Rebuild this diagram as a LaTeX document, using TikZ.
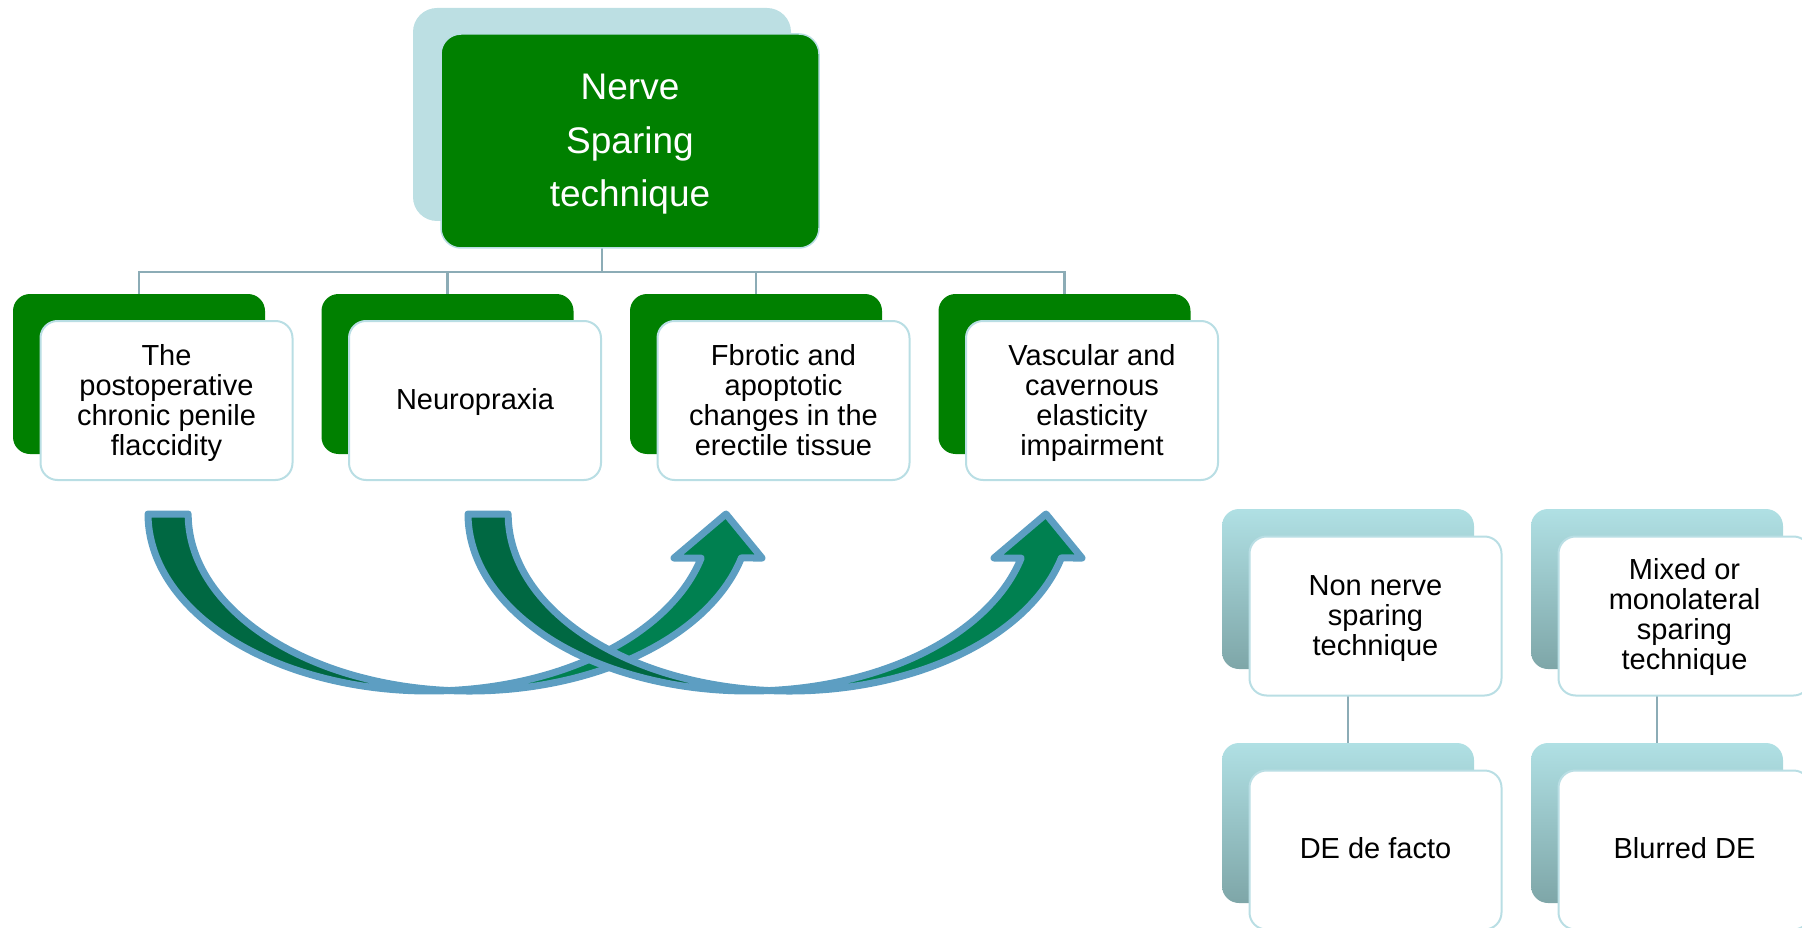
\documentclass[tikz,border=0pt]{standalone}
\usepackage{fontspec}
\setmainfont{Liberation Sans}
\newcommand{\tpad}[1]{\rule{0pt}{#1pt}}
\definecolor{pgreen}{RGB}{0,128,0}
\definecolor{lblue}{RGB}{188,223,227}
\definecolor{edgeteal}{RGB}{185,222,228}
\definecolor{connc}{RGB}{140,172,182}
\definecolor{tealtop}{RGB}{176,224,228}
\definecolor{tealbot}{RGB}{126,166,168}
\definecolor{arrfront}{RGB}{0,128,80}
\definecolor{arrback}{RGB}{0,104,66}
\definecolor{arrline}{RGB}{93,158,194}
\tikzset{
  topback/.style={rectangle, rounded corners=24pt, fill=lblue, minimum width=378pt, minimum height=213pt, inner sep=0pt},
  topfront/.style={rectangle, rounded corners=20pt, fill=pgreen, draw=edgeteal, line width=1.5pt, minimum width=378pt, minimum height=214pt, inner sep=0pt, text=white, align=center, font=\fontsize{37}{53.5}\selectfont},
  gback/.style={rectangle, rounded corners=17pt, fill=pgreen, minimum width=252pt, minimum height=160pt, inner sep=0pt},
  tback/.style={rectangle, rounded corners=17pt, top color=tealtop, bottom color=tealbot, minimum width=252pt, minimum height=160pt, inner sep=0pt},
  wfront/.style={rectangle, rounded corners=17pt, fill=white, draw=edgeteal, line width=2pt, minimum width=252pt, minimum height=159pt, inner sep=0pt, align=center, text=black, font=\fontsize{29}{30}\selectfont},
  lowertext/.style={execute at begin node={\rule{0pt}{#1pt}}},
  raisetext/.style={execute at end node={\rule[-#1pt]{0pt}{0pt}}},
  connline/.style={draw=connc, line width=2.2pt},
  arrowback/.style={fill=arrback, draw=arrline, line width=7pt, line join=round},
  arrowfront/.style={fill=arrfront, draw=arrline, line width=7pt, line join=round},
}
\begin{document}
\begin{tikzpicture}[x=1pt,y=-1pt]
\useasboundingbox (0,0) rectangle (1802,928);
% back plates
\node[topback] (tb) at (602,114.5) {};
\node[gback] (cb1) at (139,374) {};
\node[gback] (cb2) at (447.5,374) {};
\node[gback] (cb3) at (756,374) {};
\node[gback] (cb4) at (1064.5,374) {};
\node[tback] (rb1) at (1348,589) {};
\node[tback] (rb2) at (1657,589) {};
\node[tback] (rb3) at (1348,823) {};
\node[tback] (rb4) at (1657,823) {};
% connectors
\coordinate (bus) at (602,272);
\draw[connline] (tb.south) -- (bus);
\draw[connline] (bus) -| (cb1.north);
\draw[connline] (bus) -| (cb2.north);
\draw[connline] (bus) -| (cb3.north);
\draw[connline] (bus) -| (cb4.north);
\draw[connline] (rb1.south) -- (rb3.north);
\draw[connline] (rb2.south) -- (rb4.north);
% front plates
\node[topfront] (tf) at (630,141) {\tpad{32}Nerve\\Sparing\\technique};
\node[wfront] (c1) at (166.5,400.5) {\tpad{26.5}The\\postoperative\\chronic penile\\flaccidity};
\node[wfront, lowertext=25] (c2) at (475,400.5) {Neuropraxia};
\node[wfront] (c3) at (783.5,400.5) {Fbrotic and\\apoptotic\\changes in the\\erectile tissue};
\node[wfront] (c4) at (1092,400.5) {\tpad{25.5}Vascular and\\cavernous\\elasticity\\impairment};
\node[wfront] (r1) at (1375.5,616) {\tpad{25}Non nerve\\sparing\\technique};
\node[wfront] (r2) at (1684.5,616) {\tpad{23}Mixed or\\monolateral\\sparing\\technique};
\node[wfront, raisetext=5] (r3) at (1375.5,850) {DE de facto};
\node[wfront, raisetext=5] (r4) at (1684.5,850) {Blurred DE};
% curved arrows
\foreach \dx in {0,320}{
  \begin{scope}[shift={(\dx,0)}]
    \filldraw[arrowback] (148,514)
      arc[start angle=180,end angle=85.9,x radius=281,y radius=177]
      arc[start angle=94.1,end angle=180,x radius=281,y radius=177] -- cycle;
    \filldraw[arrowfront] (449.09,690.55)
      arc[start angle=94.1,end angle=14.39,x radius=281,y radius=177]
      -- (762,558) -- (726,514) -- (674,558) -- (701.2,558)
      arc[start angle=14.39,end angle=85.9,x radius=281,y radius=177] -- cycle;
  \end{scope}
}
\end{tikzpicture}
\end{document}
